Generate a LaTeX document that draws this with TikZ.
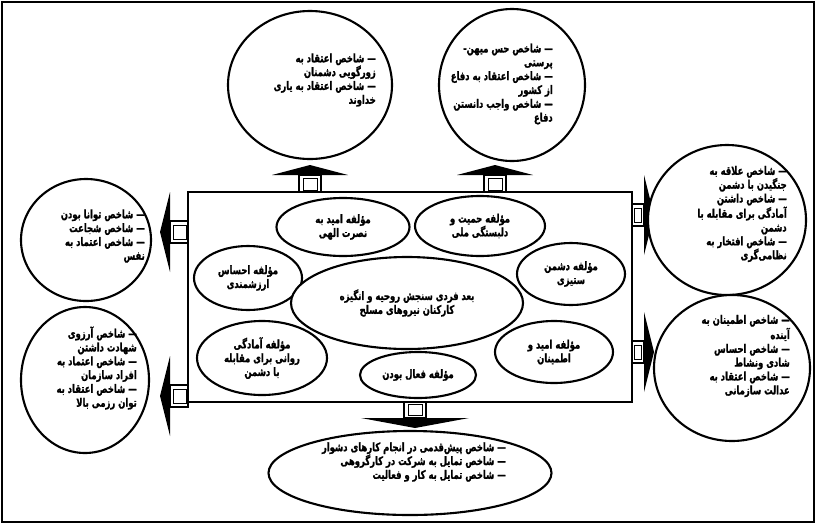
\documentclass[tikz,border=0pt]{standalone}
\usepackage{fontspec}
\usepackage{tikz}
\usetikzlibrary{shapes.geometric}
\newfontfamily\fa[Script=Arabic, FakeStretch=0.72, BoldFont={DejaVu Sans Bold}, BoldFeatures={FakeBold=1.2}]{DejaVu Sans}
\TeXXeTstate=1
\tikzset{>=latex}
\newcommand{\rl}[1]{\beginR #1\endR}
% block arrow: position, rotation, head half width, stem length
\newcommand{\blockarr}[4]{%
  \begin{scope}[shift={#1}, rotate=#2]
    \draw[line width=1.5pt, fill=white] (-11,0) rectangle (11,-#4);
    \draw[line width=0.7pt] (-7,-2) rectangle (7,-#4+3);
    \fill (-#3,-#4) -- (0,-#4-10) -- (#3,-#4) -- cycle;
  \end{scope}}

\begin{document}
\begin{tikzpicture}[
    x=0.03cm, y=-0.03cm,
    every node/.style={font=\fa\bfseries\fontsize{10}{11.8}\selectfont},
    oval/.style={draw, ellipse, line width=1.8pt, fill=white, inner sep=0pt},
    txt/.style={align=right, anchor=east, inner sep=0pt},
    ctxt/.style={align=center, inner sep=0pt}
]
    \useasboundingbox (0,0) rectangle (816,524);
    \draw[line width=1.8pt] (2,2) rectangle (814,522);

    % Main box
    \node[draw, line width=1.8pt, inner sep=0pt, minimum width=13.32cm, minimum height=6.3cm] (main) at (410,297) {};

    % Arrows
    \blockarr{(310,192)}{0}{38}{17}
    \blockarr{(495,192)}{0}{38}{17}
    \blockarr{(188,232)}{90}{40}{18}
    \blockarr{(188,396)}{90}{40}{18}
    \blockarr{(632,215)}{-90}{40}{12}
    \blockarr{(632,352)}{-90}{40}{12}
    \blockarr{(415,402)}{180}{54}{16}

    % Inner nodes
    \node[oval, minimum width=3.99cm, minimum height=1.74cm] (nasrat) at (343,227) {};
    \node[ctxt] at (nasrat) {\rl{مؤلفه امید به}\\\rl{نصرت الهی}};
    \node[oval, minimum width=3.9cm, minimum height=1.8cm] (hamiyat) at (480,226) {};
    \node[ctxt] at (hamiyat) {\rl{مؤلفه حمیت و}\\\rl{دلبستگی ملی}};
    \node[oval, minimum width=3.24cm, minimum height=1.92cm] (arzesh) at (248,278) {};
    \node[ctxt] at (arzesh) {\rl{مؤلفه احساس}\\\rl{ارزشمندی}};
    \node[oval, minimum width=3.24cm, minimum height=1.86cm] (doshman) at (571,274) {};
    \node[ctxt] at (doshman) {\rl{مؤلفه دشمن}\\\rl{ستیزی}};
    \node[oval, minimum width=6.96cm, minimum height=2.76cm] (markaz) at (407,303) {};
    \node[ctxt] at (markaz) {\rl{بعد فردی سنجش روحیه و انگیزه}\\\rl{کارکنان نیروهای مسلح}};
    \node[oval, minimum width=3.9cm, minimum height=2.22cm] (amadegi) at (262,358) {};
    \node[ctxt] at (amadegi) {\rl{مؤلفه آمادگی}\\\rl{روانی برای مقابله}\\\rl{با دشمن}};
    \node[oval, minimum width=3.54cm, minimum height=1.86cm] (omid) at (554,352) {};
    \node[ctxt] at (omid) {\rl{مؤلفه امید و}\\\rl{اطمینان}};
    \node[oval, minimum width=3.48cm, minimum height=1.38cm] (faal) at (418,375) {};
    \node[ctxt] at (faal) {\rl{مؤلفه فعال بودن}};

    % Outer nodes
    \node[oval, minimum width=4.92cm, minimum height=4.44cm] (tl) at (310,85) {};
    \node[txt] at (376,80) {\rl{— شاخص اعتقاد به}\\\rl{زورگویی دشمنان}\\\rl{— شاخص اعتقاد به یاری}\\\rl{خداوند}};
    \node[oval, minimum width=4.38cm, minimum height=4.56cm] (tr) at (512,85) {};
    \node[txt] at (553,84) {\rl{— شاخص حس میهن-}\\\rl{پرستی}\\\rl{— شاخص اعتقاد به دفاع}\\\rl{از کشور}\\\rl{— شاخص واجب دانستن}\\\rl{دفاع}};
    \node[oval, minimum width=3.9cm, minimum height=3.66cm] (lt) at (86,240) {};
    \node[txt] at (145,236) {\rl{— شاخص توانا بودن}\\\rl{— شاخص شجاعت}\\\rl{— شاخص اعتماد به}\\\rl{نفس}};
    \node[oval, minimum width=3.84cm, minimum height=4.38cm] (lb) at (85,380) {};
    \node[txt] at (137,368) {\rl{— شاخص آرزوی}\\\rl{شهادت داشتن}\\\rl{— شاخص اعتماد به}\\\rl{افراد سازمان}\\\rl{— شاخص اعتقاد به}\\\rl{توان رزمی بالا}};
    \node[oval, minimum width=4.74cm, minimum height=4.5cm] (rt) at (727,220) {};
    \node[txt] at (787,214) {\rl{— شاخص علاقه به}\\\rl{جنگیدن با دشمن}\\\rl{— شاخص داشتن}\\\rl{آمادگی برای مقابله با}\\\rl{دشمن}\\\rl{— شاخص افتخار به}\\\rl{نظامی‌گری}};
    \node[oval, minimum width=4.68cm, minimum height=4.38cm] (rb) at (732,368) {};
    \node[txt] at (790,356) {\rl{— شاخص اطمینان به}\\\rl{آینده}\\\rl{— شاخص احساس}\\\rl{شادی ونشاط}\\\rl{— شاخص اعتقاد به}\\\rl{عدالت سازمانی}};
    \node[oval, minimum width=8.49cm, minimum height=2.52cm] (bt) at (410,473) {};
    \node[txt] at (506,462) {\rl{— شاخص پیش‌قدمی در انجام کارهای دشوار}\\\rl{— شاخص تمایل به شرکت در کارگروهی}\\\rl{— شاخص تمایل به کار و فعالیت}};
\end{tikzpicture}
\end{document}
